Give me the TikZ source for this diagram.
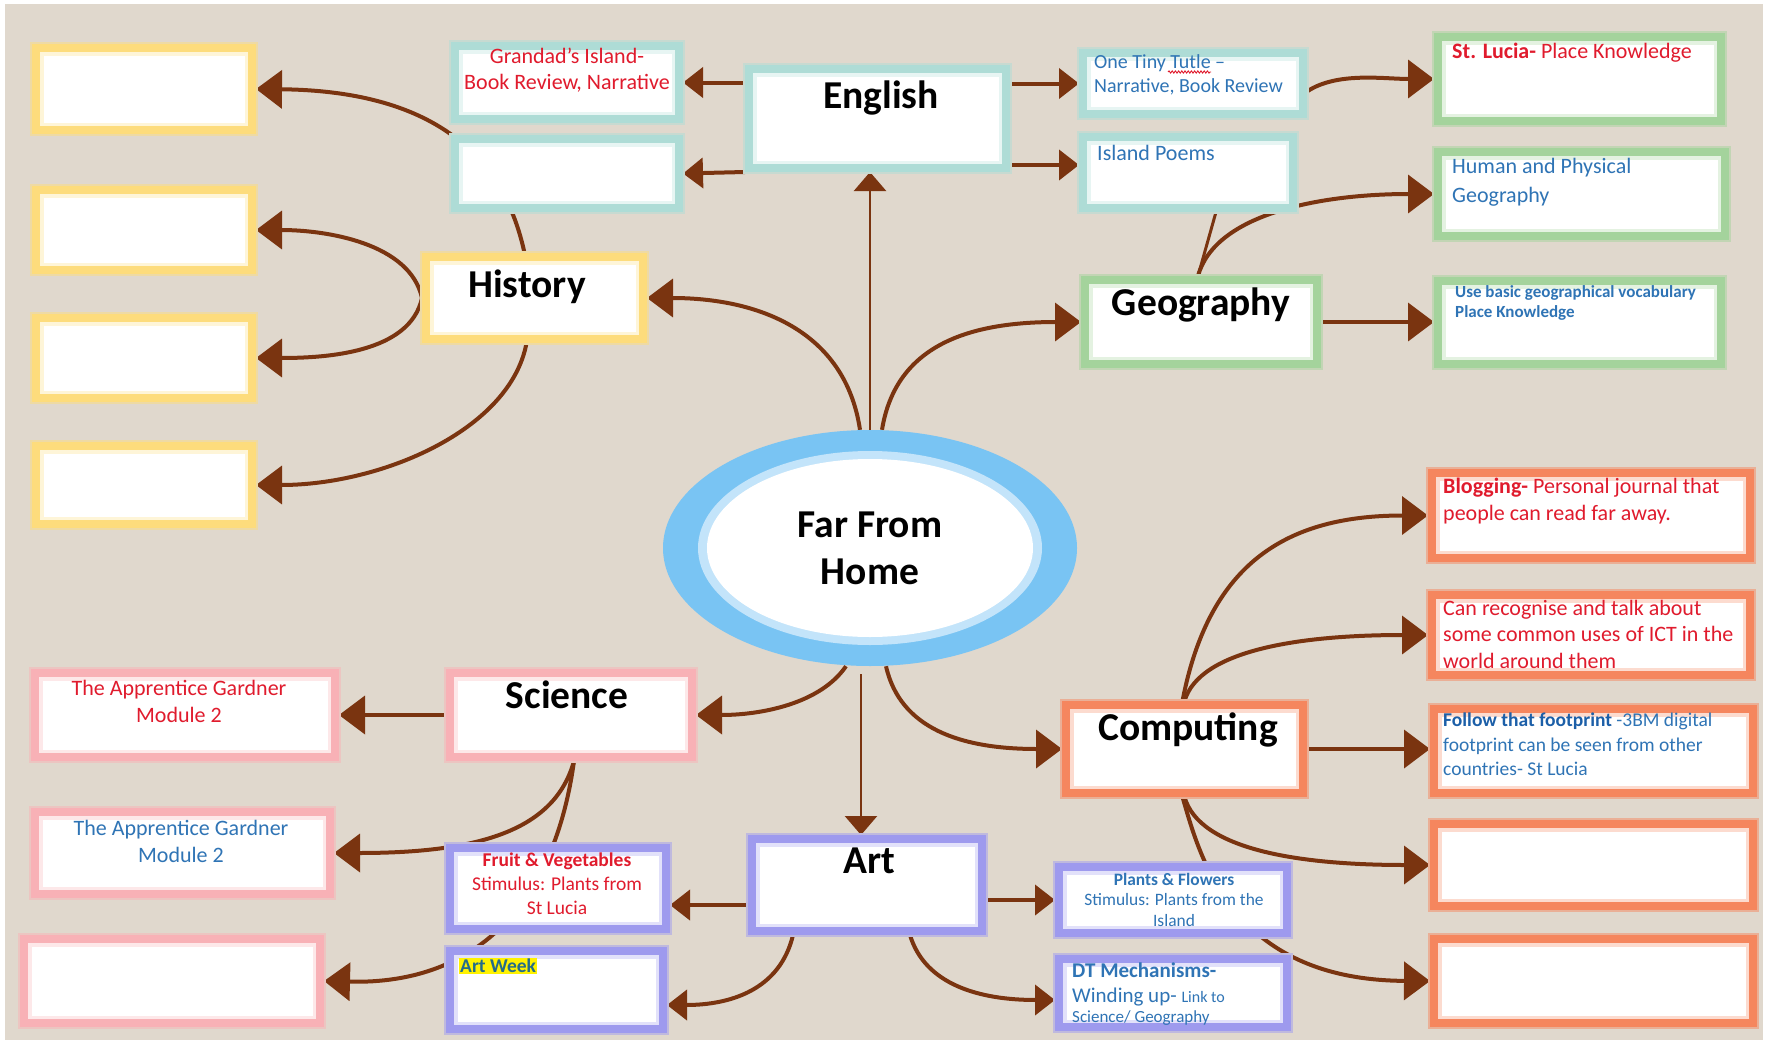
\documentclass[tikz,border=0pt]{standalone}
\usepackage{fontspec}
\setmainfont{Carlito}
\usetikzlibrary{arrows.meta,shapes.geometric,calc,decorations.pathmorphing}
\definecolor{bgc}{HTML}{E0D8CD}
\definecolor{arr}{HTML}{7A3410}
\definecolor{cYel}{HTML}{FDDC7C}
\definecolor{cTeal}{HTML}{AEDCD6}
\definecolor{cGrn}{HTML}{A4D39C}
\definecolor{cPink}{HTML}{F8B1B6}
\definecolor{cLav}{HTML}{9E9AEE}
\definecolor{cOra}{HTML}{F5865E}
\definecolor{cRing}{HTML}{79C4F3}
\definecolor{cRed}{HTML}{E01B2D}
\definecolor{cBlue}{HTML}{2F74B5}
\definecolor{cDBlue}{HTML}{1C5FA8}
\definecolor{cArtW}{HTML}{246C8A}
\newcommand\myfs[2]{\fontsize{#1}{#2}\selectfont}
\pgfdeclarelayer{backdrop}
\pgfdeclarelayer{links}
\pgfsetlayers{backdrop,links,main}
\tikzset{
  basebox/.style={rectangle, fill=white, line width=8pt, outer sep=4pt, inner sep=0pt,
    draw=#1, preaction={draw=#1!50!bgc, line width=12pt},
    path picture={\draw[#1!30!white, line width=15pt] (path picture bounding box.south west) rectangle (path picture bounding box.north east);}},
  ybox/.style={basebox=cYel},
  tbox/.style={basebox=cTeal},
  gbox/.style={basebox=cGrn},
  pbox/.style={basebox=cPink},
  lbox/.style={basebox=cLav},
  obox/.style={basebox=cOra},
  sz/.style 2 args={minimum width=#1pt-8pt, minimum height=#2pt-8pt},
  conn/.style={draw=arr, line width=4pt, -{Triangle[length=26pt,width=38pt]}},
  medconn/.style={draw=arr, line width=4pt, -{Triangle[length=20pt,width=30pt]}},
  thinarrow/.style={draw=arr, line width=2.6pt, -{Triangle[length=19pt,width=32pt]}},
  plainlink/.style={draw=arr, line width=3pt},
  heading/.style={font=\myfs{39.5}{46}\bfseries, inner sep=0pt, anchor=base},
  txt/.style={inner sep=0pt, font=\myfs{22}{26}},
}
\begin{document}
\begin{tikzpicture}[x=1pt,y=-1pt]
\useasboundingbox (0,0) rectangle (1781,1044);
\begin{pgfonlayer}{backdrop}
\fill[white] (0,0) rectangle (1781,1044);
\fill[bgc] (5,4) rectangle (1763,1040);
\end{pgfonlayer}

% ---------- boxes ----------
\node[ybox, sz={224}{90}] (y1) at (144,89) {};
\node[ybox, sz={224}{88}] (y2) at (144,230) {};
\node[ybox, sz={224}{88}] (y3) at (144,358) {};
\node[ybox, sz={224}{86}] (y4) at (144,485) {};
\node[tbox, sz={232}{81}] (grandad) at (567,82.5) {};
\node[tbox, sz={232}{77}] (tealempty) at (567,173.5) {};
\node[ybox, sz={225}{90}] (hist) at (534.5,298) {};
\node[tbox, sz={265}{107}] (eng) at (877.5,118.5) {};
\node[tbox, sz={228}{69}] (tutle) at (1193,83.5) {};
\node[tbox, sz={218}{79}] (poems) at (1188,172.5) {};
\node[gbox, sz={291}{92}] (lucia) at (1579.5,79) {};
\node[gbox, sz={295}{92}] (human) at (1581.5,194) {};
\node[gbox, sz={291}{91}] (usebasic) at (1579.5,322.5) {};
\node[gbox, sz={240}{92}] (geo) at (1201,322) {};
\node[pbox, sz={250}{92}] (sci) at (571,715) {};
\node[pbox, sz={308}{92}] (app1) at (185,715) {};
\node[pbox, sz={303}{90}] (app2) at (182.5,853) {};
\node[pbox, sz={304}{92}] (pinkempty) at (172,981) {};
\node[lbox, sz={224}{89}] (fruit) at (558,888.5) {};
\node[lbox, sz={221}{86}] (artweek) at (556.5,990) {};
\node[lbox, sz={238}{100}] (art) at (867,885) {};
\node[lbox, sz={236}{74}] (plants) at (1173,900) {};
\node[lbox, sz={236}{76}] (dt) at (1173,993) {};
\node[obox, sz={245}{96}] (comp) at (1184.5,749) {};
\node[obox, sz={326}{93}] (blog) at (1591,515.5) {};
\node[obox, sz={326}{88}] (ict) at (1591,635) {};
\node[obox, sz={327}{92}] (follow) at (1593.5,751) {};
\node[obox, sz={327}{90}] (oe1) at (1593.5,865) {};
\node[obox, sz={327}{92}] (oe2) at (1593.5,981) {};

% ---------- central ellipse ----------
\node[ellipse, fill=cRing, minimum width=414pt, minimum height=236pt, inner sep=0pt,
  align=center, font=\myfs{39.5}{47}\bfseries,
  path picture={
    \fill[cRing!45!white] (path picture bounding box.center) ellipse [x radius=172pt, y radius=97pt];
    \fill[white] (path picture bounding box.center) ellipse [x radius=163pt, y radius=89pt];
  }] (center) at (870,548) {Far From\\Home};

% ---------- headings ----------
\node[heading] (tEng) at (881,108) {English};
\node[heading] (tHist) at (527,297) {History};
\node[heading] (tGeo) at (1201,315) {Geography};
\node[heading] (tSci) at (567,708) {Science};
\node[heading] (tArt) at (869,873) {Art};
\node[heading] (tComp) at (1188,740) {Computing};

% ---------- texts ----------
\node[txt, anchor=north, align=center, text=cRed] (tGrandad) at (567,48) {Grandad’s Island-\\Book Review, Narrative};
\node[txt, anchor=north west, align=left, text=cBlue, font=\myfs{20}{24}] (tTutle) at (1094,54) {One Tiny Tutle –\\Narrative, Book Review};
\draw[cRed, line width=0.9pt, decorate, decoration={snake, amplitude=1.1pt, segment length=3.2pt}] (1168,72) -- (1211,72);
\node[txt, anchor=north west, text=cBlue] (tPoems) at (1097,145) {Island Poems};
\node[txt, anchor=north west, text=cRed] (tLucia) at (1452,43) {\textbf{St. Lucia-} Place Knowledge};
\node[txt, anchor=north west, align=left, text=cBlue, font=\myfs{22}{29}] (tHuman) at (1452,158) {Human and Physical\\Geography};
\node[txt, anchor=north west, align=left, text=cBlue, font=\myfs{17}{20}\bfseries] (tUse) at (1455,285) {Use basic geographical vocabulary\\Place Knowledge};
\node[txt, anchor=north west, align=left, text=cRed, font=\myfs{22}{27}] (tBlog) at (1443,478) {\textbf{Blogging-} Personal journal that\\people can read far away.};
\node[txt, anchor=north west, align=left, text=cRed, font=\myfs{22}{26.5}] (tIct) at (1443,600) {Can recognise and talk about\\some common uses of ICT in the\\world around them};
\node[txt, anchor=north west, align=left, text=cBlue, font=\myfs{19.5}{24.5}] (tFollow) at (1443,713) {\textcolor{cDBlue}{\textbf{Follow that footprint}} -3BM digital\\footprint can be seen from other\\countries- St Lucia};
\node[txt, anchor=north, align=center, text=cRed, font=\myfs{22}{27}] (tApp1) at (179,680) {The Apprentice Gardner\\Module 2};
\node[txt, anchor=north, align=center, text=cBlue, font=\myfs{22}{27}] (tApp2) at (181,820) {The Apprentice Gardner\\Module 2};
\node[txt, anchor=north, align=center, text=cRed, font=\myfs{19.5}{24}] (tFruit) at (557,853) {\textbf{Fruit \& Vegetables}\\Stimulus: Plants from\\St Lucia};
\node[inner sep=1pt, anchor=north west, fill=yellow, text=cArtW, font=\myfs{19.5}{22}\bfseries] (tArtWeek) at (459,958) {Art Week};
\node[txt, anchor=north, align=center, text=cBlue, font=\myfs{17.4}{20.5}] (tPlants) at (1174,873) {\textbf{Plants \& Flowers}\\Stimulus: Plants from the\\Island};
\node[txt, anchor=north west, align=left, text=cBlue, font=\myfs{21}{25}] (tDT) at (1072,963) {\textbf{DT Mechanisms-}\\Winding up- {\myfs{16}{18}Link to}\\[-5pt]{\myfs{17}{20}Science/ Geography}};

% ---------- connectors ----------
\begin{pgfonlayer}{links}
\draw[thinarrow] (center.north) -- (center.north |- eng.south);
\draw[conn] ([xshift=-10pt]center.north) .. controls +(-15,-100) and +(110,0) .. (hist.east);
\draw[conn] ([xshift=12pt]center.north) .. controls +(13,-80) and +(-120,0) .. (geo.west);
\draw[medconn] (eng.west |- grandad.east) -- (grandad.east);
\draw[medconn] (eng.south west) -- (tealempty.east);
\draw[medconn] (eng.east |- tutle.west) -- (tutle.west);
\draw[medconn] ([yshift=7pt]eng.south east) -- ([yshift=7pt]eng.south east -| poems.west);
\draw[conn] ([yshift=-8pt]tutle.east) .. controls +(30,-20) and +(-50,0) .. (lucia.west);
\draw[plainlink] ([xshift=28pt]poems.south) -- ([xshift=-3pt]geo.north);
\draw[conn] ([xshift=-3pt]geo.north) .. controls +(17,-62) and +(-114,0) .. (human.west);
\draw[conn] (geo.east) -- (geo.east -| usebasic.west);
\draw[conn] (hist.west) .. controls +(-12,-55) and +(70,0) .. (y2.east);
\draw[conn] (hist.west) .. controls +(-12,55) and +(70,0) .. (y3.east);
\draw[conn] ([xshift=-8pt]hist.south) .. controls +(-16,87) and +(125,0) .. (y4.east);
\draw[conn] ([xshift=-10pt]hist.north) .. controls +(-20,-93) and +(183,2) .. (y1.east);
\draw[conn] ([xshift=-24pt]center.south) .. controls +(-26,38) and +(64,0) .. (sci.east);
\draw[thinarrow] ([xshift=-9pt,yshift=-8pt]center.south) -- ([xshift=-9pt]center.south |- art.north);
\draw[conn] ([xshift=16pt]center.south) .. controls +(14,62) and +(-102,0) .. (comp.west);
\draw[conn] (sci.west) -- (app1.east);
\draw[conn] ([xshift=3pt]sci.south) .. controls +(-19,69) and +(146,0) .. (app2.east);
\draw[conn] ([xshift=3pt]sci.south) .. controls +(-19,139) and +(156,4) .. (pinkempty.east);
\draw[medconn] ([yshift=-20pt]art.west) -- ([yshift=-20pt]art.west -| fruit.east);
\draw[medconn] ([xshift=-74pt]art.south) .. controls +(-13,55) and +(63,0) .. ([yshift=-15pt]artweek.east);
\draw[medconn] (art.east |- plants.west) -- (plants.west);
\draw[medconn] ([xshift=43pt]art.south) .. controls +(15,50) and +(-75,0) .. ([yshift=-7pt]dt.west);
\draw[conn] ([xshift=-2pt]comp.north) .. controls +(27,-141) and +(-138,0) .. (blog.west);
\draw[conn] (comp.north) .. controls +(15,-51) and +(-128,0) .. (ict.west);
\draw[conn] (comp.east) -- (comp.east -| follow.west);
\draw[conn] (comp.south) .. controls +(15,53) and +(-130,0) .. (oe1.west);
\draw[conn] ([xshift=-2pt]comp.south) .. controls +(17,58) and +(-200,-1) .. (oe2.west);
\end{pgfonlayer}
\end{tikzpicture}
\end{document}
